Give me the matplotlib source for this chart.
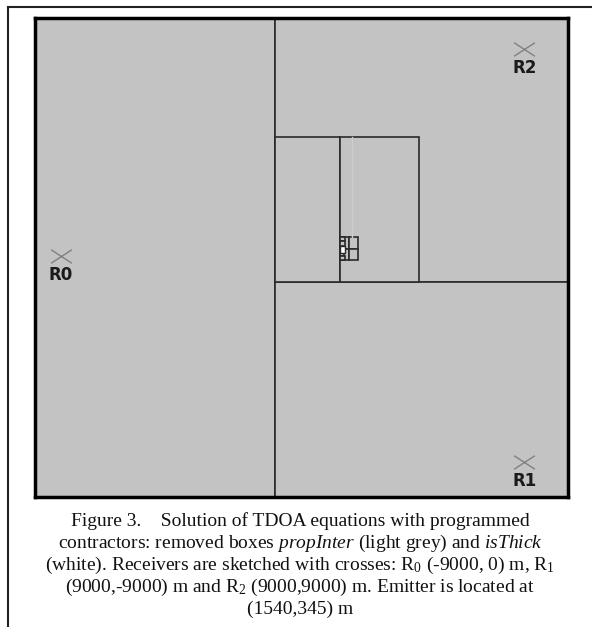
import matplotlib
matplotlib.use('Agg')
import matplotlib.pyplot as plt
from matplotlib.patches import Rectangle
from matplotlib.lines import Line2D
from matplotlib.path import Path

plt.rcParams['mathtext.fontset'] = 'custom'
plt.rcParams['mathtext.rm'] = 'Liberation Serif'
plt.rcParams['mathtext.it'] = 'Liberation Serif:italic'

# Receivers (m)
rec_names = ['R0', 'R1', 'R2']
rec_x = [-9000, 9000, 9000]
rec_y = [0, -9000, 9000]

# Search domain (m)
x_lim = (-10000, 10700)
y_lim = (-10525, 10351)

# Boxes kept by the paver: (x0, x1, y0, y1)
boxes = [
    (-10000, -679, -10525, 10351),
    (-679, 10700, -1157, 10351),
    (-679, 10700, -10525, -1157),
    (-679, 1833, -1157, 5164),
    (1833, 4913, -1157, 5164),
    (1833, 2183, 294, 804),
    (2183, 2544, 294, 804),
    (1833, 2183, -198, 294),
    (2183, 2544, -198, 294),
    (1845, 2039, 630, 804),
    (1845, 2039, 412, 630),
    (1845, 2000, -24, 107),
    (1845, 2039, -198, -24),
]
# Boxes removed by isThick (white)
white_boxes = [(1860, 2050, 107, 412)]

fig = plt.figure(figsize=(5.92, 6.27), dpi=100)
ax = fig.add_axes([35 / 592, 1 - 497 / 627, 533 / 592, 479 / 627])
ax.set_facecolor('#c3c3c3')
ax.set_xlim(*x_lim)
ax.set_ylim(*y_lim)

for x0, x1, y0, y1 in boxes:
    ax.add_patch(Rectangle((x0, y0), x1 - x0, y1 - y0, facecolor='#c3c3c3',
                           edgecolor='#2a2a2a', lw=1.2))
for x0, x1, y0, y1 in white_boxes:
    ax.add_patch(Rectangle((x0, y0), x1 - x0, y1 - y0, facecolor='white',
                           edgecolor='#2a2a2a', lw=1.0))
# faint propInter trace
ax.plot([2311, 2311], [804, 5164], color='#cdcdcd', lw=1)

# flattened cross marker
cross = Path([(-1, -0.65), (1, 0.65), (-1, 0.65), (1, -0.65)],
             [Path.MOVETO, Path.LINETO, Path.MOVETO, Path.LINETO])
ax.plot(rec_x, rec_y, marker=cross, ms=15, mew=1, color='#808080',
        linestyle='none', fillstyle='none')
for name, x, y in zip(rec_names, rec_x, rec_y):
    ax.annotate(name, (x, y), xytext=(0, -14), textcoords='offset points',
                ha='center', va='center', fontsize=12, fontweight='bold',
                color='#1a1a1a', family='DejaVu Sans')

ax.set_xticks([])
ax.set_yticks([])
for s in ax.spines.values():
    s.set_linewidth(2.5)
    s.set_color('black')

# page frame
fig.add_artist(Line2D([8 / 592, 1], [1 - 7 / 627] * 2, color='#222222', lw=1.5))
fig.add_artist(Line2D([8 / 592] * 2, [0, 1 - 7 / 627], color='#222222', lw=1.5))

caption = [
    'Figure 3.    Solution of TDOA equations with programmed',
    r'contractors: removed boxes $\mathit{propInter}$ (light grey) and $\mathit{isThick}$',
    r'(white). Receivers are sketched with crosses: R$_0$ (-9000, 0) m, R$_1$',
    r'(9000,-9000) m and R$_2$ (9000,9000) m. Emitter is located at',
    '(1540,345) m',
]
for i, line in enumerate(caption):
    fig.text(300 / 592, 1 - (521 + 22 * i) / 627, line, ha='center', va='center',
             fontsize=14, family='Liberation Serif', color='#111111')

fig.savefig('out.png', dpi=100)
